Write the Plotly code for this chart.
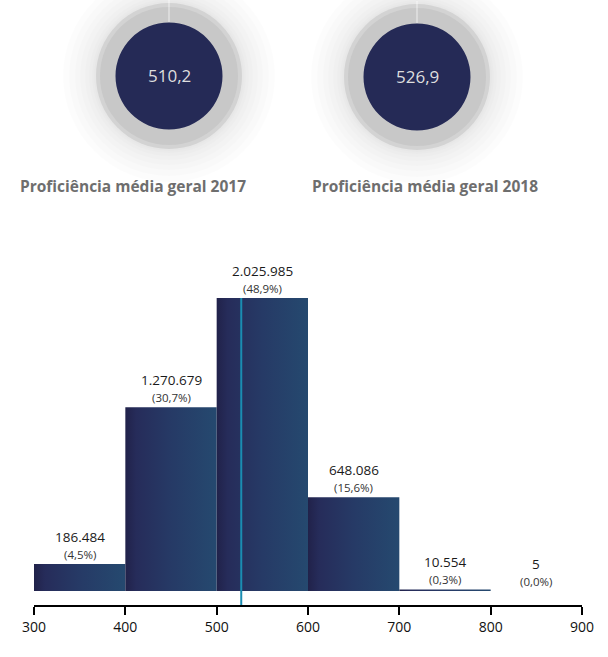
import plotly.graph_objects as go

# ---- data ----
bin_edges = [300, 400, 500, 600, 700, 800, 900]
counts = [186484, 1270679, 2025985, 648086, 10554, 5]
count_labels = ["186.484", "1.270.679", "2.025.985", "648.086", "10.554", "5"]
pct_labels = ["(4,5%)", "(30,7%)", "(48,9%)", "(15,6%)", "(0,3%)", "(0,0%)"]
tick_values = [300, 400, 500, 600, 700, 800, 900]
tick_labels = ["300", "400", "500", "600", "700", "800", "900"]
mean_years = ["2017", "2018"]
mean_values = [510.2, 526.9]
mean_labels = ["510,2", "526,9"]
mean_2018 = 526.9

W, H = 608, 657
ML, MR, MT, MB = 34, 26, 0, 52
PW = W - ML - MR
PH = H - MT - MB

def X(px):
    return (px - ML) / PW

def Y(py):
    return 1 - (py - MT) / PH

fig = go.Figure()

grad = [[0, "#21224a"], [0.12, "#262c5a"], [0.5, "#263a66"], [1, "#25496f"]]
for i, v in enumerate(counts):
    lo, hi = bin_edges[i], bin_edges[i + 1]
    fig.add_trace(go.Scatter(
        x=[lo, lo, hi, hi, lo], y=[0, v, v, 0, 0],
        mode="lines", fill="toself", line=dict(width=0),
        fillgradient=dict(type="horizontal", colorscale=grad),
        hoverinfo="skip", showlegend=False))

# mean line 2018
fig.add_trace(go.Scatter(
    x=[mean_2018, mean_2018], y=[-120000, max(counts)],
    mode="lines", line=dict(color="#1a8db2", width=2),
    hoverinfo="skip", showlegend=False))

annotations = []
for i, v in enumerate(counts):
    cx = (bin_edges[i] + bin_edges[i + 1]) / 2
    annotations.append(dict(x=cx, y=v, xref="x", yref="y", text=count_labels[i],
                            showarrow=False, yanchor="middle", yshift=27,
                            font=dict(family="Open Sans", size=13.5, color="#1a1a1a")))
    annotations.append(dict(x=cx, y=v, xref="x", yref="y", text=pct_labels[i],
                            showarrow=False, yanchor="middle", yshift=10,
                            font=dict(family="Open Sans", size=11.5, color="#333333")))

shapes = []
centers = [(169, 76), (417, 77)]
title_x = [133, 425]
for k, (cx, cy) in enumerate(centers):
    xa, ya = X(cx), Y(cy)
    # glow
    for r in [106, 100, 94, 89, 84, 80, 77, 75]:
        shapes.append(dict(type="circle", xref="paper", yref="paper",
                           xsizemode="pixel", ysizemode="pixel",
                           xanchor=xa, yanchor=ya,
                           x0=-r, x1=r, y0=-r, y1=r,
                           fillcolor="rgba(0,0,0,0.013)", line=dict(width=0), layer="below"))
    for r, col in [(73, "#d3d3d3"), (69, "#c8c8c8")]:
        shapes.append(dict(type="circle", xref="paper", yref="paper",
                           xsizemode="pixel", ysizemode="pixel",
                           xanchor=xa, yanchor=ya,
                           x0=-r, x1=r, y0=-r, y1=r,
                           fillcolor=col, line=dict(width=0), layer="below"))
    shapes.append(dict(type="line", xref="paper", yref="paper",
                       xsizemode="pixel", ysizemode="pixel",
                       xanchor=xa, yanchor=ya,
                       x0=0, x1=0, y0=54, y1=76,
                       line=dict(color="rgba(255,255,255,0.7)", width=1), layer="below"))
    r = 53.5
    shapes.append(dict(type="circle", xref="paper", yref="paper",
                       xsizemode="pixel", ysizemode="pixel",
                       xanchor=xa, yanchor=ya,
                       x0=-r, x1=r, y0=-r, y1=r,
                       fillcolor="#252a56", line=dict(width=0), layer="below"))
    annotations.append(dict(x=xa, y=ya, xref="paper", yref="paper",
                            text=mean_labels[k], showarrow=False,
                            xanchor="center", yanchor="middle",
                            font=dict(family="Open Sans", size=17, color="#dedede")))
    annotations.append(dict(x=X(title_x[k]), y=Y(186), xref="paper", yref="paper",
                            text="<b>Proficiência média geral " + mean_years[k] + "</b>",
                            showarrow=False, xanchor="center", yanchor="middle",
                            font=dict(family="Open Sans", size=15.5, color="#6e6e6e")))

ymax_px = 293.0 / max(counts)
y_min = -14 / ymax_px
y_max = y_min + (605 - 242) / ymax_px

fig.update_layout(
    width=W, height=H,
    margin=dict(l=ML, r=MR, t=MT, b=MB, autoexpand=False),
    paper_bgcolor="white", plot_bgcolor="white",
    xaxis=dict(range=[300, 900], tickvals=tick_values, ticktext=tick_labels,
               showgrid=False, zeroline=False, showline=True,
               linecolor="black", linewidth=2, ticks="outside", ticklen=8,
               tickwidth=2, tickcolor="black",
               tickfont=dict(family="Open Sans", size=14, color="#111111"),
               fixedrange=True),
    yaxis=dict(range=[y_min, y_max], domain=[0, 1 - 242 / PH], visible=False,
               fixedrange=True),
    shapes=shapes, annotations=annotations, showlegend=False,
)

fig.write_html("out.html",
               config={"displayModeBar": False},
               post_script="document.body.style.margin='0px';"
                           "document.documentElement.style.overflow='hidden';")
